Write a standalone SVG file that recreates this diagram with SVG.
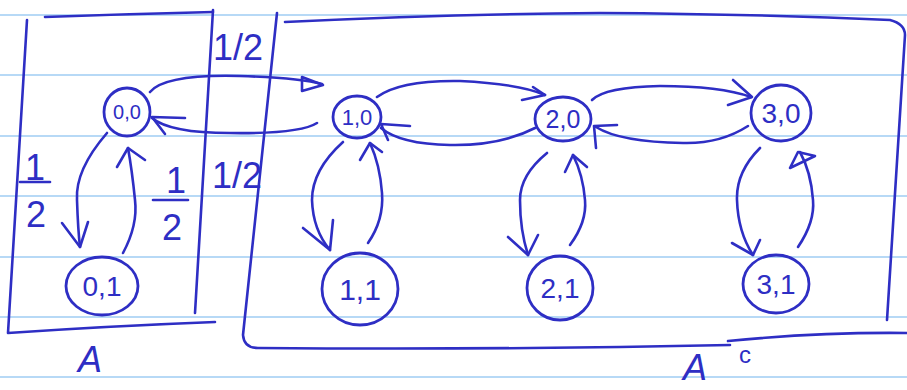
<svg xmlns="http://www.w3.org/2000/svg" width="907" height="390" viewBox="0 0 907 390">
<defs>
<style>
.rule{stroke:#9fcdf3;stroke-width:1.6;fill:none}
.ink{stroke:#2e2ec4;stroke-width:2.6;fill:none;stroke-linecap:round;stroke-linejoin:round}
.node{stroke:#2e2ec4;stroke-width:2.8;fill:none}
.lbl{font-family:"Liberation Sans","DejaVu Sans",sans-serif;fill:#2e2ec4;text-anchor:middle;dominant-baseline:central}
.big{font-family:"Liberation Sans","DejaVu Sans",sans-serif;fill:#2e2ec4;font-size:36px;text-anchor:middle}
</style>
</defs>
<rect width="907" height="390" fill="#ffffff"/>
<g id="ruling">
<line class="rule" x1="0" y1="15" x2="907" y2="15"/>
<line class="rule" x1="0" y1="75" x2="907" y2="75"/>
<line class="rule" x1="0" y1="136" x2="907" y2="136"/>
<line class="rule" x1="0" y1="196" x2="907" y2="196"/>
<line class="rule" x1="0" y1="257" x2="907" y2="257"/>
<line class="rule" x1="0" y1="317" x2="907" y2="317"/>
<line class="rule" x1="0" y1="377" x2="907" y2="377"/>
</g>
<g id="boxes">
<path class="ink" d="M45 17 Q130 14 213 12"/>
<path class="ink" d="M27 20 L8 333 Q110 326 215 322"/>
<path class="ink" d="M213 10 L195 313"/>
<path class="ink" d="M285 22 Q450 14 600 13 Q760 14 890 20 Q905 24 905 35 L887 320"/>
<path class="ink" d="M277 13 L243 335 Q244 348 258 348 Q500 350 730 345"/>
<path class="ink" d="M728 341 Q820 332 907 333"/>
</g>
<g id="labels">
<text class="big" x="238" y="60">1/2</text>
<text class="big" x="237" y="188">1/2</text>
<text class="big" x="35" y="180">1</text>
<line class="ink" x1="20" y1="182" x2="50" y2="182"/>
<text class="big" x="36" y="227">2</text>
<text class="big" x="176" y="193">1</text>
<line class="ink" x1="153" y1="200" x2="188" y2="200"/>
<text class="big" x="172" y="240">2</text>
<text class="big" x="90" y="372" font-size="44" font-style="italic">A</text>
<text class="big" x="695" y="380" font-size="34" font-style="italic">A</text>
<text class="lbl" x="745" y="354" font-size="24">c</text>
</g>
<g id="connectors">
<path class="ink" d="M150 92 Q165 74 240 76 Q300 78 322 84"/>
<path class="ink" d="M302 77 L323 85 L302 91 Z"/>
<path class="ink" d="M317 123 Q300 134 230 133 Q170 133 152 118"/>
<path class="ink" d="M185 118 L152 117 L165 134"/>
<path class="ink" d="M377 97 Q400 80 460 81 Q520 84 545 95"/>
<path class="ink" d="M533 87 L545 95 L522 100"/>
<path class="ink" d="M535 128 Q500 146 450 145 Q400 144 381 128"/>
<path class="ink" d="M410 126 L381 124 L388 140"/>
<path class="ink" d="M592 100 Q605 87 660 86 Q720 86 751 97"/>
<path class="ink" d="M733 80 L752 97 L728 105"/>
<path class="ink" d="M748 126 Q720 144 683 143 Q620 142 596 127"/>
<path class="ink" d="M617 125 L594 126 L596 148"/>
<path class="ink" d="M107 133 Q75 170 77 200 Q78 230 80 247"/>
<path class="ink" d="M62 223 L80 247 L88 222"/>
<path class="ink" d="M123 253 Q138 225 135 200 Q132 170 128 148"/>
<path class="ink" d="M117 167 L128 148 L145 160"/>
<path class="ink" d="M343 142 Q312 170 312 200 Q313 230 330 250"/>
<path class="ink" d="M303 228 L330 250 L333 220"/>
<path class="ink" d="M368 243 Q384 220 382 193 Q380 165 370 143"/>
<path class="ink" d="M360 160 L370 143 L382 152"/>
<path class="ink" d="M547 153 Q520 175 520 200 Q520 230 528 255"/>
<path class="ink" d="M508 237 L528 255 L538 235"/>
<path class="ink" d="M570 245 Q587 222 585 200 Q583 175 573 155"/>
<path class="ink" d="M565 172 L573 155 L587 167"/>
<path class="ink" d="M760 148 Q736 172 737 200 Q738 232 753 255"/>
<path class="ink" d="M732 243 L753 255 L760 240"/>
<path class="ink" d="M798 247 Q815 222 813 200 Q811 172 800 152"/>
<path class="ink" d="M790 168 L798 152 L815 156 Z"/>
</g>
<g id="n00"><ellipse class="node" cx="127" cy="112" rx="23" ry="24"/><text class="lbl" x="127" y="112" font-size="20">0,0</text></g>
<g id="n01"><ellipse class="node" cx="102" cy="286" rx="36" ry="29"/><text class="lbl" x="102" y="286" font-size="28">0,1</text></g>
<g id="n10"><ellipse class="node" cx="357" cy="117" rx="24" ry="21"/><text class="lbl" x="357" y="117" font-size="22">1,0</text></g>
<g id="n11"><ellipse class="node" cx="360" cy="289" rx="38" ry="36"/><text class="lbl" x="360" y="289" font-size="30">1,1</text></g>
<g id="n20"><ellipse class="node" cx="563" cy="119" rx="28" ry="22"/><text class="lbl" x="563" y="119" font-size="25">2,0</text></g>
<g id="n21"><ellipse class="node" cx="560" cy="288" rx="33" ry="32"/><text class="lbl" x="560" y="288" font-size="28">2,1</text></g>
<g id="n30"><ellipse class="node" cx="781" cy="113" rx="30" ry="28"/><text class="lbl" x="781" y="113" font-size="28">3,0</text></g>
<g id="n31"><ellipse class="node" cx="776" cy="284" rx="33" ry="29"/><text class="lbl" x="776" y="284" font-size="28">3,1</text></g>
</svg>
